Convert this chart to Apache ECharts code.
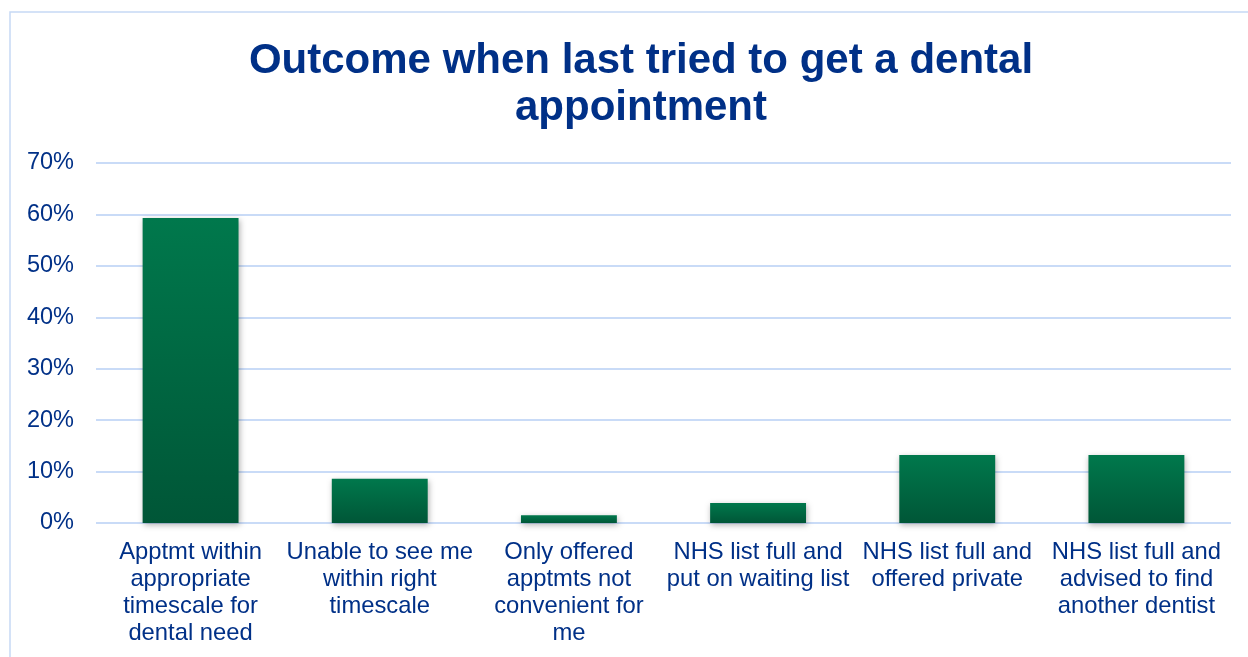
<!DOCTYPE html>
<html><head><meta charset="utf-8">
<script src="https://cdn.jsdelivr.net/npm/echarts@6/dist/echarts.min.js"></script>
<style>html,body{margin:0;padding:0;background:#fff}#c{width:1248px;height:657px}</style>
</head><body><div id="c"></div>
<script>
var categories = [
  "Apptmt within\nappropriate\ntimescale for\ndental need",
  "Unable to see me\nwithin right\ntimescale",
  "Only offered\napptmts not\nconvenient for\nme",
  "NHS list full and\nput on waiting list",
  "NHS list full and\noffered private",
  "NHS list full and\nadvised to find\nanother dentist"
];
var values = [59.3, 8.6, 1.5, 3.9, 13.2, 13.2];
var yTicks = [0, 10, 20, 30, 40, 50, 60, 70];
var titleText = "Outcome when last tried to get a dental\nappointment";

var chart = echarts.init(document.getElementById('c'), null, {renderer: 'canvas'});
chart.setOption({
  animation: false,
  backgroundColor: '#fff',
  graphic: [{
    type: 'rect', shape: {x: 10, y: 12, width: 1300, height: 700},
    style: {fill: 'none', stroke: '#C6D9F5', lineWidth: 1.5}, z: 0
  }],
  title: {
    text: titleText, left: 636, top: 33, textAlign: 'center',
    textStyle: {fontFamily: 'Liberation Sans, Arial', fontWeight: 'bold', fontSize: 42, lineHeight: 47, color: '#003087'}
  },
  grid: {left: 96, right: 17, top: 163, bottom: 134, containLabel: false},
  xAxis: {
    type: 'category', data: categories,
    axisLine: {show: false}, axisTick: {show: false},
    axisLabel: {interval: 0, margin: 16, fontFamily: 'Liberation Sans, Arial', fontSize: 23.8, lineHeight: 27, color: '#003087'}
  },
  yAxis: {
    type: 'value', min: yTicks[0], max: yTicks[yTicks.length - 1], interval: 10,
    axisLine: {show: false}, axisTick: {show: false},
    splitLine: {lineStyle: {color: '#C9DBF7', width: 2}},
    axisLabel: {margin: 22, padding: [4, 0, 0, 0], fontFamily: 'Liberation Sans, Arial', fontSize: 23.5, color: '#003087', formatter: '{value}%'}
  },
  series: [{
    type: 'bar', data: values, barWidth: '50.7%',
    itemStyle: {
      color: new echarts.graphic.LinearGradient(0, 0, 0, 1, [
        {offset: 0, color: '#00784C'}, {offset: 1, color: '#005637'}
      ]),
      shadowBlur: 6, shadowColor: 'rgba(0,0,0,0.3)', shadowOffsetX: 1, shadowOffsetY: 2
    }
  }]
});
</script></body></html>
